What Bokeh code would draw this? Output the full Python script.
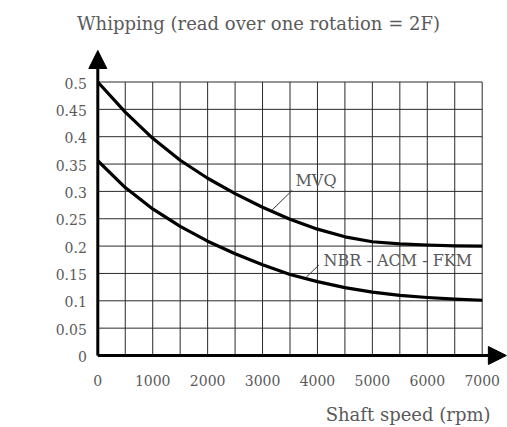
from bokeh.plotting import figure
from bokeh.models import Range1d, Arrow, NormalHead, Label
from bokeh.embed import file_html
from bokeh.resources import INLINE

# ---- data ----
rpm = [0, 500, 1000, 1500, 2000, 2500, 3000, 3500, 4000, 4500, 5000, 5500, 6000, 6500, 7000]
mvq = [0.5, 0.445, 0.397, 0.357, 0.324, 0.296, 0.271, 0.249, 0.231, 0.217, 0.208, 0.204, 0.202, 0.2005, 0.2]
nbr_acm_fkm = [0.356, 0.307, 0.268, 0.236, 0.209, 0.186, 0.166, 0.148, 0.135, 0.124, 0.116, 0.11, 0.106, 0.103, 0.101]

x_grid = [0, 500, 1000, 1500, 2000, 2500, 3000, 3500, 4000, 4500, 5000, 5500, 6000, 6500, 7000]
y_grid = [0, 0.05, 0.1, 0.15, 0.2, 0.25, 0.3, 0.35, 0.4, 0.45, 0.5]
x_ticks = [0, 1000, 2000, 3000, 4000, 5000, 6000, 7000]
x_tick_labels = ["0", "1000", "2000", "3000", "4000", "5000", "6000", "7000"]
y_tick_labels = ["0", "0.05", "0.1", "0.15", "0.2", "0.25", "0.3", "0.35", "0.4", "0.45", "0.5"]

title_text = "Whipping (read over one rotation = 2F)"
x_label_text = "Shaft speed (rpm)"
series_names = ["MVQ", "NBR - ACM - FKM"]

# ---- layout ----
W, H = 507, 427
PX_PER_RPM = 384.4 / 7000
X0_PX = 97.3
PX_PER_UNIT = 547.0
Y0_PX = 72.0

FONT = "DejaVu Serif"
TXT = "#5a5a5a"

p = figure(width=W, height=H, output_backend="svg", toolbar_location=None,
           x_range=Range1d(-X0_PX / PX_PER_RPM, (W - X0_PX) / PX_PER_RPM),
           y_range=Range1d(-Y0_PX / PX_PER_UNIT, (H - Y0_PX) / PX_PER_UNIT),
           min_border=0, outline_line_color=None)
p.xaxis.visible = False
p.yaxis.visible = False
p.grid.visible = False
p.background_fill_color = "white"
p.border_fill_color = "white"

# grid
xmax, ymax = x_grid[-1], y_grid[-1]
p.segment(x0=x_grid, y0=[0] * len(x_grid), x1=x_grid, y1=[ymax] * len(x_grid),
          line_color="#2a2a2a", line_width=1)
p.segment(x0=[0] * len(y_grid), y0=y_grid, x1=[xmax] * len(y_grid), y1=y_grid,
          line_color="#2a2a2a", line_width=1)

# curves
p.line(rpm, mvq, line_color="black", line_width=3.2, line_join="round")
p.line(rpm, nbr_acm_fkm, line_color="black", line_width=3.2, line_join="round")

# axes with arrows
p.add_layout(Arrow(x_start=0, y_start=0, x_end=7440, y_end=0, line_width=3, line_color="black",
                   end=NormalHead(size=18, fill_color="black", line_color="black", line_width=1)))
p.add_layout(Arrow(x_start=0, y_start=0, x_end=0, y_end=0.5576, line_width=3, line_color="black",
                   end=NormalHead(size=18, fill_color="black", line_color="black", line_width=1)))

# tick labels
p.text(x=x_ticks, y=[0] * len(x_ticks), text=x_tick_labels, y_offset=25,
       text_align="center", text_baseline="alphabetic",
       text_font={"value": FONT}, text_font_size="14px", text_color=TXT)
p.text(x=[0] * len(y_grid), y=y_grid, text=y_tick_labels, x_offset=-11, y_offset=1,
       text_align="right", text_baseline="alphabetic",
       text_font={"value": FONT}, text_font_size="14px", text_color=TXT)

# leader lines
p.segment(x0=[3540, 4026], y0=[0.302, 0.1655], x1=[3175, 3783], y1=[0.266, 0.1418],
          line_color="#333333", line_width=1)

# series labels
p.add_layout(Label(x=3600, y=0.32, text=series_names[0], text_baseline="middle",
                   text_font=FONT, text_font_size="16px", text_color=TXT))
p.add_layout(Label(x=4110, y=0.1737, text=series_names[1], text_baseline="middle",
                   text_font=FONT, text_font_size="16px", text_color=TXT))

# title and axis label
p.add_layout(Label(x=258, y=H - 22.5, x_units="screen", y_units="screen", text=title_text,
                   text_align="center", text_baseline="alphabetic",
                   text_font=FONT, text_font_size="18px", text_color=TXT))
p.add_layout(Label(x=490, y=13, x_units="screen", y_units="screen", text=x_label_text,
                   text_align="right", text_baseline="alphabetic",
                   text_font=FONT, text_font_size="18px", text_color=TXT))

open("out.html", "w").write(file_html(p, INLINE))
